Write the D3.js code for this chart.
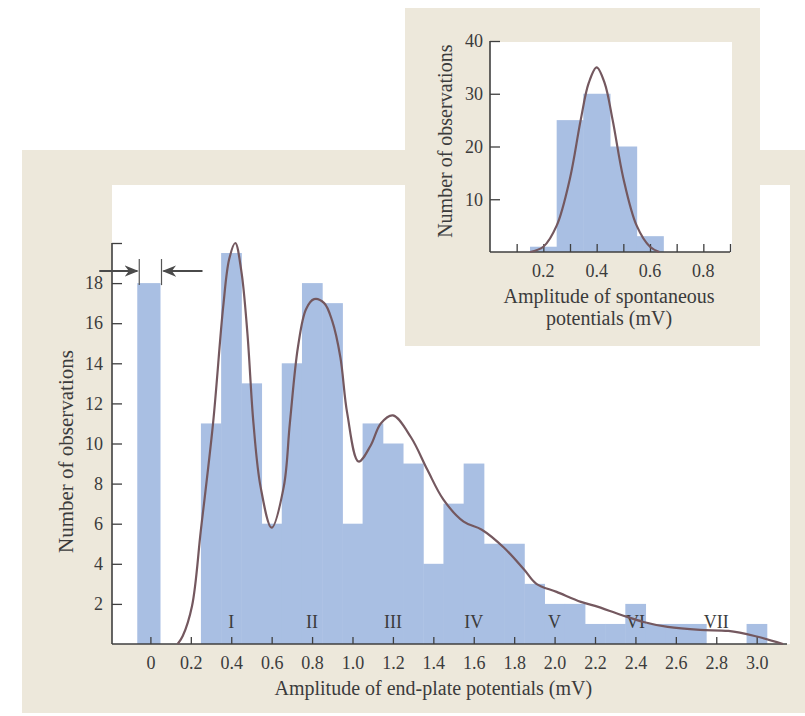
<!DOCTYPE html>
<html>
<head>
<meta charset="utf-8">
<script src="https://cdn.jsdelivr.net/npm/d3@7"></script>
<style>
  html, body { margin: 0; padding: 0; background: #fff; }
  svg { display: block; }
  text { font-family: "Liberation Serif", "DejaVu Serif", serif; fill: #3b3b3b; }
</style>
</head>
<body>
<div id="chart"></div>
<script>
// ---- data ----
// main histogram: end-plate potentials, bins 0.1 mV wide (x0 = left edge)
const eppBinStart = [0.25, 0.35, 0.45, 0.55, 0.65, 0.75, 0.85, 0.95, 1.05, 1.15, 1.25, 1.35, 1.45, 1.55, 1.65, 1.75, 1.85, 1.95, 2.05, 2.15, 2.25, 2.35, 2.45, 2.55, 2.65, 2.75, 2.85, 2.95];
const eppCounts   = [11, 19.5, 13, 6, 14, 18, 17, 6, 11, 10, 9, 4, 7, 9, 5, 5, 3, 2, 2, 1, 1, 2, 1, 1, 1, 0, 0, 1];
const binWidth = 0.1;
// failures (no response) bar around 0
const failureBin = [-0.065, 0.05];
const failureCount = 18;

// fitted curve, points
const eppCurveX = [0.135, 0.16, 0.206, 0.25, 0.31, 0.36, 0.39, 0.42, 0.45, 0.48, 0.51, 0.545, 0.60, 0.66, 0.69, 0.73, 0.77, 0.81, 0.86, 0.9, 0.94, 0.974, 1.03, 1.09, 1.14, 1.2, 1.29, 1.37, 1.45, 1.55, 1.64, 1.75, 1.85, 1.91, 2.01, 2.13, 2.2, 2.33, 2.44, 2.56, 2.72, 2.86, 2.99, 3.13];
const eppCurveY = [0, 0.4, 1.9, 5.7, 11, 16.8, 19.2, 20, 18.6, 15.5, 11, 7.85, 5.8, 7.85, 11, 14.8, 16.7, 17.2, 17, 16.1, 14.3, 11.5, 9.1, 9.9, 11, 11.4, 10.3, 8.7, 7.2, 6.1, 5.7, 4.8, 3.7, 3.0, 2.6, 2.1, 1.9, 1.45, 1.1, 0.85, 0.7, 0.65, 0.4, 0];

const eppTicks = [0, 0.2, 0.4, 0.6, 0.8, 1.0, 1.2, 1.4, 1.6, 1.8, 2.0, 2.2, 2.4, 2.6, 2.8, 3.0];
const countTicks = [2, 4, 6, 8, 10, 12, 14, 16, 18, 20];
const quantalLabels = ['I', 'II', 'III', 'IV', 'V', 'VI', 'VII'];
const quantalPos = [0.4, 0.8, 1.2, 1.6, 2.0, 2.4, 2.8];

// inset: spontaneous miniature potentials
const mepBinStart = [0.15, 0.25, 0.35, 0.45, 0.55];
const mepCounts   = [1, 25, 30, 20, 3];
const mepCurveX = [0.15, 0.2, 0.25, 0.3, 0.34, 0.37, 0.4, 0.43, 0.46, 0.5, 0.55, 0.6, 0.635];
const mepCurveY = [0, 1, 5, 14, 25, 32, 35, 32, 25, 14, 5, 1, 0];
const mepXTicks = [0.1, 0.2, 0.3, 0.4, 0.5, 0.6, 0.7, 0.8, 0.9];
const mepXLabels = [0.2, 0.4, 0.6, 0.8];
const mepYTicks = [10, 20, 30, 40];

const W = 805, H = 716;
const beige = '#ede8db';
const barFill = '#a9bfe3';
const curveColor = '#74585f';
const inkColor = '#3f3f3f';
const serif = '"Liberation Serif", "DejaVu Serif", serif';

const svg = d3.select('#chart').append('svg')
    .attr('width', W)
    .attr('height', H);

// ---- main chart ----
const x = d3.scaleLinear().domain([-0.19, 3.15]).range([112, 787]);
const y = d3.scaleLinear().domain([0, 20]).range([644, 243]);

// panel background, white plot area starts at the y axis
svg.append('rect').attr('x', 22).attr('y', 150).attr('width', W - 22).attr('height', 563).attr('fill', beige);
svg.append('rect').attr('x', x(-0.19)).attr('y', 185).attr('width', 790 - x(-0.19)).attr('height', y(0) - 185).attr('fill', '#fff');

const main = svg.append('g');

main.selectAll('rect.bar')
    .data(eppBinStart.map((s, i) => ({ s, v: eppCounts[i] })).filter(d => d.v > 0))
    .enter().append('rect')
    .attr('class', 'bar')
    .attr('x', d => x(d.s))
    .attr('y', d => y(d.v))
    .attr('width', d => x(d.s + binWidth) - x(d.s) + 0.5)
    .attr('height', d => y(0) - y(d.v))
    .attr('fill', barFill);

main.append('rect')
    .attr('x', x(failureBin[0]))
    .attr('y', y(failureCount))
    .attr('width', x(failureBin[1]) - x(failureBin[0]))
    .attr('height', y(0) - y(failureCount))
    .attr('fill', barFill);

// axes
const xAxis = d3.axisBottom(x).tickValues(eppTicks).tickSize(-7).tickPadding(12)
    .tickFormat(d => d === 0 ? '0' : d3.format('.1f')(d));
const gx = main.append('g').attr('transform', `translate(0,${y(0)})`).call(xAxis);
gx.select('.domain').attr('d', `M${x(-0.19)},0H${x(3.15)}`);

const yAxis = d3.axisLeft(y).tickValues(countTicks).tickSize(-10).tickPadding(9)
    .tickFormat(d => d === 20 ? '' : d);
const gy = main.append('g').attr('transform', `translate(${x(-0.19)},0)`).call(yAxis);
gy.select('.domain').attr('d', `M0,${y(20)}V${y(0)}`);

[gx, gy].forEach(g => {
    g.selectAll('.domain').attr('stroke', inkColor).attr('stroke-width', 1.6);
    g.selectAll('.tick line').attr('stroke', inkColor).attr('stroke-width', 1.3);
    g.selectAll('.tick text').attr('font-size', 18).style('font-family', serif).attr('fill', '#3b3b3b');
});

// quantal level labels
main.selectAll('text.quantal')
    .data(quantalLabels)
    .enter().append('text')
    .attr('class', 'quantal')
    .attr('x', (d, i) => x(quantalPos[i]))
    .attr('y', y(0.8))
    .attr('text-anchor', 'middle')
    .attr('font-size', 18)
    .text(d => d);

// fitted curve
const line = d3.line().x(d => x(d[0])).y(d => y(d[1])).curve(d3.curveCatmullRom.alpha(0.5));
main.append('path')
    .datum(eppCurveX.map((v, i) => [v, eppCurveY[i]]))
    .attr('d', line)
    .attr('fill', 'none')
    .attr('stroke', curveColor)
    .attr('stroke-width', 2.2);

// arrows marking the failure bin
const defs = svg.append('defs');
defs.append('marker')
    .attr('id', 'head')
    .attr('viewBox', '0 0 10 10')
    .attr('refX', 9).attr('refY', 5)
    .attr('markerWidth', 14).attr('markerHeight', 14)
    .attr('markerUnits', 'userSpaceOnUse')
    .attr('orient', 'auto')
    .append('path').attr('d', 'M0,1 L10,5 L0,9 L3,5 Z').attr('fill', '#4a4a4a');

const arrowY = y(18.6);
const edgeL = x(failureBin[0]) + 2, edgeR = x(failureBin[1]) + 1;
main.append('line').attr('x1', edgeL - 40).attr('x2', edgeL - 2).attr('y1', arrowY).attr('y2', arrowY)
    .attr('stroke', '#4a4a4a').attr('stroke-width', 2).attr('marker-end', 'url(#head)');
main.append('line').attr('x1', edgeR + 41).attr('x2', edgeR + 2).attr('y1', arrowY).attr('y2', arrowY)
    .attr('stroke', '#4a4a4a').attr('stroke-width', 2).attr('marker-end', 'url(#head)');
[edgeL, edgeR].forEach(ex => {
    main.append('line').attr('x1', ex).attr('x2', ex).attr('y1', y(19.2)).attr('y2', y(17.9))
        .attr('stroke', '#555').attr('stroke-width', 1.2);
});

// axis titles
main.append('text')
    .attr('x', x(1.4)).attr('y', 695)
    .attr('text-anchor', 'middle').attr('font-size', 20)
    .text('Amplitude of end-plate potentials (mV)');
main.append('text')
    .attr('transform', `translate(73,${y(9.6)}) rotate(-90)`)
    .attr('text-anchor', 'middle').attr('font-size', 21)
    .text('Number of observations');

// ---- inset ----
const inset = svg.append('g');
const ix = d3.scaleLinear().domain([0, 0.9]).range([490, 730]);
const iy = d3.scaleLinear().domain([0, 40]).range([252, 41]);

inset.append('rect').attr('x', 405).attr('y', 8).attr('width', 355).attr('height', 338).attr('fill', beige);
inset.append('rect').attr('x', ix(0)).attr('y', 42).attr('width', 242).attr('height', iy(0) - 42).attr('fill', '#fff');

inset.selectAll('rect.ibar')
    .data(mepBinStart.map((s, i) => ({ s, v: mepCounts[i] })))
    .enter().append('rect')
    .attr('class', 'ibar')
    .attr('x', d => ix(d.s))
    .attr('y', d => iy(d.v))
    .attr('width', d => ix(d.s + binWidth) - ix(d.s) + 0.5)
    .attr('height', d => iy(0) - iy(d.v))
    .attr('fill', barFill);

const ixAxis = d3.axisBottom(ix).tickValues(mepXTicks).tickSize(-8).tickFormat('');
const gix = inset.append('g').attr('transform', `translate(0,${iy(0)})`).call(ixAxis);
gix.select('.domain').attr('d', `M${ix(0)},0H${ix(0.9)}`);
inset.selectAll('text.ixl')
    .data(mepXLabels)
    .enter().append('text')
    .attr('class', 'ixl')
    .attr('x', d => ix(d))
    .attr('y', iy(0) + 25)
    .attr('text-anchor', 'middle')
    .attr('font-size', 18)
    .text(d => d3.format('.1f')(d));

const iyAxis = d3.axisLeft(iy).tickValues(mepYTicks).tickSize(-10).tickPadding(7);
const giy = inset.append('g').attr('transform', `translate(${ix(0)},0)`).call(iyAxis);
giy.select('.domain').attr('d', `M0,${iy(40)}V${iy(0)}`);

[gix, giy].forEach(g => {
    g.selectAll('.domain').attr('stroke', inkColor).attr('stroke-width', 1.6);
    g.selectAll('.tick line').attr('stroke', inkColor).attr('stroke-width', 1.3);
    g.selectAll('.tick text').attr('font-size', 18).style('font-family', serif).attr('fill', '#3b3b3b');
});

const iline = d3.line().x(d => ix(d[0])).y(d => iy(d[1])).curve(d3.curveCatmullRom.alpha(0.5));
inset.append('path')
    .datum(mepCurveX.map((v, i) => [v, mepCurveY[i]]))
    .attr('d', iline)
    .attr('fill', 'none')
    .attr('stroke', curveColor)
    .attr('stroke-width', 2.2);

inset.append('text')
    .attr('x', 609).attr('y', 303)
    .attr('text-anchor', 'middle').attr('font-size', 20)
    .text('Amplitude of spontaneous');
inset.append('text')
    .attr('x', 609).attr('y', 325)
    .attr('text-anchor', 'middle').attr('font-size', 20)
    .text('potentials (mV)');
inset.append('text')
    .attr('transform', `translate(452,${iy(21)}) rotate(-90)`)
    .attr('text-anchor', 'middle').attr('font-size', 20)
    .text('Number of observations');
</script>
</body>
</html>
